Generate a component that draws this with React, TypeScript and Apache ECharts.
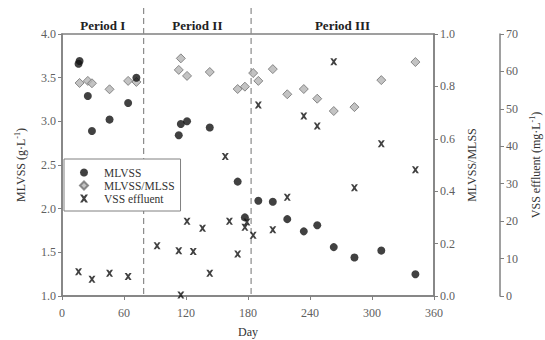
import { useEffect, useRef } from "react";
import * as echarts from "echarts";

const FONT = '"Liberation Serif", "DejaVu Serif", serif';

// MLVSS (g/L) by day
const mlvssDays = [16, 17, 25, 29, 46, 64, 72, 113, 115, 121, 143, 170, 177, 190, 204, 218, 234, 247, 263, 283, 309, 342];
const mlvssValues = [3.66, 3.69, 3.29, 2.89, 3.02, 3.21, 3.5, 2.84, 2.97, 3.0, 2.93, 2.31, 1.9, 2.09, 2.08, 1.88, 1.74, 1.81, 1.56, 1.44, 1.52, 1.25];

// MLVSS/MLSS ratio by day
const ratioDays = [17, 25, 29, 46, 64, 72, 113, 115, 121, 143, 170, 177, 185, 190, 204, 218, 234, 247, 263, 283, 309, 342];
const ratioValues = [0.813, 0.821, 0.812, 0.789, 0.821, 0.817, 0.863, 0.907, 0.84, 0.855, 0.79, 0.799, 0.851, 0.821, 0.866, 0.77, 0.79, 0.753, 0.706, 0.721, 0.824, 0.893];

// Effluent VSS (mg/L) by day
const vssDays = [16, 29, 46, 64, 92, 113, 115, 121, 127, 136, 143, 158, 162, 170, 177, 179, 185, 190, 204, 218, 234, 247, 263, 283, 309, 342];
const vssValues = [6.5, 4.5, 6.1, 5.2, 13.4, 12.1, 0.3, 20.0, 11.9, 18.1, 6.1, 37.3, 20.0, 11.2, 18.4, 19.8, 16.2, 51.0, 17.7, 26.4, 48.1, 45.4, 62.6, 28.9, 40.7, 33.7];

// Operating periods: boundaries (days) and titles
const periodBounds = [79, 183];
const periodNames = ["Period I", "Period II", "Period III"];

const dayRange = [0, 360];

const CROSS = "path://M0,0 L3,0 L5,2.6 L7,0 L10,0 L6.6,5 L10,10 L7,10 L5,7.4 L3,10 L0,10 L3.4,5 Z";

const axisGray = "#808080";
const labelGray = "#606060";

function pairs(xs: number[], ys: number[]) {
  return xs.map((x, i) => [x, ys[i]]);
}

function yAxisBase() {
  return {
    type: "value" as const,
    nameLocation: "middle" as const,
    nameRotate: 90,
    splitLine: { show: false },
    axisLine: { show: true, lineStyle: { color: axisGray, width: 1.5 } },
    axisTick: { show: true, length: 4, lineStyle: { color: axisGray, width: 1 } },
    axisLabel: { color: labelGray, fontFamily: FONT, fontSize: 12, margin: 6 },
  };
}

function richName(color: string) {
  return {
    color,
    fontFamily: FONT,
    fontSize: 12,
    rich: {
      a: { fontFamily: FONT, fontSize: 12, color },
      s: { fontFamily: FONT, fontSize: 8, color, padding: [0, 0, 7, 0] },
    },
  };
}

export default function App() {
  const ref = useRef<HTMLDivElement>(null);

  useEffect(() => {
    if (!ref.current) return;
    const chart = echarts.init(ref.current, undefined, { renderer: "svg" });

    chart.setOption({
      animation: false,
      backgroundColor: "#ffffff",
      grid: {
        left: 62,
        right: 111,
        top: 34,
        bottom: 44,
        outerBoundsMode: "none",
        containLabel: false,
        show: true,
        borderColor: axisGray,
        borderWidth: 1.5,
      },
      legend: {
        left: 64,
        top: 159,
        orient: "vertical",
        itemWidth: 8,
        itemHeight: 8,
        itemGap: 0,
        padding: [7, 6, 6, 15],
        borderColor: axisGray,
        borderWidth: 1,
        backgroundColor: "#ffffff",
        textStyle: {
          fontFamily: FONT,
          fontSize: 11.5,
          color: "#333",
          lineHeight: 13,
          padding: [0, 0, 0, 11],
        },
        data: ["MLVSS", "MLVSS/MLSS", "VSS effluent"],
      },
      xAxis: {
        type: "value",
        min: dayRange[0],
        max: dayRange[1],
        interval: 60,
        name: "Day",
        nameLocation: "middle",
        nameGap: 30,
        nameTextStyle: { color: "#333", fontFamily: FONT, fontSize: 12 },
        splitLine: { show: false },
        axisLine: { lineStyle: { color: axisGray, width: 1.5 } },
        axisTick: { length: 4, lineStyle: { color: axisGray } },
        axisLabel: { color: labelGray, fontFamily: FONT, fontSize: 12, margin: 11 },
      },
      yAxis: [
        {
          ...yAxisBase(),
          position: "left",
          min: 1,
          max: 4,
          interval: 0.5,
          name: "{a|MLVSS (g·L}{s|-1}{a|)}",
          nameGap: 34,
          nameTextStyle: richName("#333"),
          axisLabel: { ...yAxisBase().axisLabel, formatter: (v: number) => v.toFixed(1) },
        },
        {
          ...yAxisBase(),
          position: "right",
          min: 0,
          max: 1,
          interval: 0.2,
          name: "MLVSS/MLSS",
          nameGap: 32,
          nameTextStyle: { color: "#333", fontFamily: FONT, fontSize: 12 },
          axisLabel: { ...yAxisBase().axisLabel, formatter: (v: number) => v.toFixed(1) },
        },
        {
          ...yAxisBase(),
          position: "right",
          offset: 66,
          min: 0,
          max: 70,
          interval: 10,
          name: "{a|VSS effluent (mg·L}{s|-1}{a|)}",
          nameGap: 24,
          nameTextStyle: richName("#333"),
        },
      ],
      series: [
        {
          name: "MLVSS",
          type: "scatter",
          yAxisIndex: 0,
          symbol: "circle",
          symbolSize: 8,
          itemStyle: { color: "#111111" },
          data: pairs(mlvssDays, mlvssValues),
          z: 3,
        },
        {
          name: "MLVSS/MLSS",
          type: "scatter",
          yAxisIndex: 1,
          symbol: "diamond",
          symbolSize: 9,
          itemStyle: { color: "#b4b4b4", borderColor: "#707070", borderWidth: 1 },
          data: pairs(ratioDays, ratioValues),
          z: 2,
        },
        {
          name: "VSS effluent",
          type: "scatter",
          yAxisIndex: 2,
          symbol: CROSS,
          symbolSize: 7,
          itemStyle: { color: "#111111" },
          data: pairs(vssDays, vssValues),
          z: 4,
        },
      ],
    });

    // Period dividers and titles placed with the x axis scale
    const xs = [dayRange[0], ...periodBounds, dayRange[1]].map(
      (d) => chart.convertToPixel({ xAxisIndex: 0 }, d) as number
    );
    const yTop = chart.convertToPixel({ yAxisIndex: 0 }, 4) as number;
    const yBottom = chart.convertToPixel({ yAxisIndex: 0 }, 1) as number;

    const lines = periodBounds.map((_, i) => ({
      type: "line",
      shape: { x1: xs[i + 1], y1: yTop - 26, x2: xs[i + 1], y2: yBottom },
      style: { stroke: "#8a8a8a", lineWidth: 1.2, lineDash: [6, 4] },
      z: 1,
    }));
    const titles = periodNames.map((name, i) => ({
      type: "text",
      x: (xs[i] + xs[i + 1]) / 2,
      y: yTop - 9,
      style: {
        text: name,
        fontFamily: FONT,
        fontSize: 13,
        fontWeight: "bold",
        fill: "#222",
        align: "center",
        verticalAlign: "middle",
      },
    }));
    chart.setOption({ graphic: [...lines, ...titles] });

    return () => chart.dispose();
  }, []);

  return (
    <div
      ref={ref}
      style={{ position: "fixed", left: 0, top: 0, width: 545, height: 340, background: "#fff" }}
    />
  );
}
